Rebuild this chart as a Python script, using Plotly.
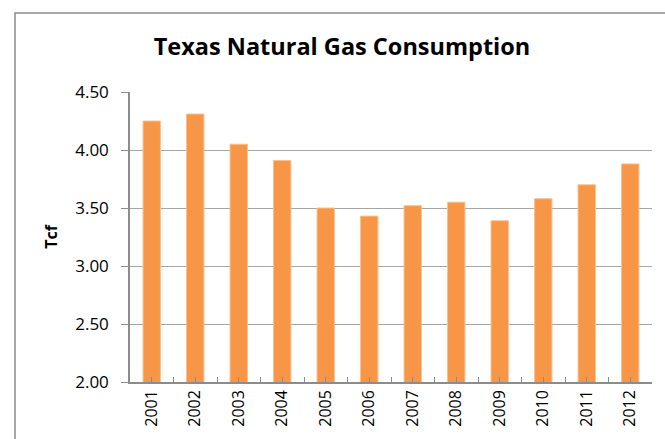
import plotly.graph_objects as go

years = ["2001", "2002", "2003", "2004", "2005", "2006", "2007", "2008", "2009", "2010", "2011", "2012"]
consumption_tcf = [4.25, 4.31, 4.05, 3.91, 3.50, 3.43, 3.52, 3.55, 3.39, 3.58, 3.70, 3.88]
y_ticks = [2.0, 2.5, 3.0, 3.5, 4.0, 4.5]
y_tick_labels = ["2.00", "2.50", "3.00", "3.50", "4.00", "4.50"]

FONT = "Open Sans"
xpos = list(range(len(years)))

fig = go.Figure(go.Bar(
    x=xpos, y=consumption_tcf,
    marker=dict(color="#F79646", line=dict(color="#FAC08F", width=1)),
    width=0.4,
))

fig.update_layout(
    width=665, height=439,
    margin=dict(l=130, r=13, t=92, b=57),
    paper_bgcolor="white", plot_bgcolor="white",
    showlegend=False,
    title=dict(text="<b>Texas Natural Gas Consumption</b>", x=342/665, xref="container",
               xanchor="center", y=1-47/439, yref="container", yanchor="middle",
               font=dict(family=FONT, size=23.5, color="black")),
    shapes=[dict(type="rect", xref="paper", yref="paper",
                 x0=(15-130)/522, x1=(672-130)/522, y0=(382-448)/290, y1=(382-13)/290,
                 line=dict(color="#8C8C8C", width=1.5), fillcolor="rgba(0,0,0,0)", layer="below")],
)

fig.update_xaxes(
    range=[-0.5, len(years)-0.5],
    tickmode="array", tickvals=xpos, ticktext=years, tickangle=-90,
    ticks="inside", ticklen=5, tickcolor="#8C8C8C",
    minor=dict(tickmode="array", tickvals=[i+0.5 for i in range(-1, len(years))],
               ticks="inside", ticklen=5, tickcolor="#8C8C8C"),
    showline=True, linecolor="#8C8C8C", linewidth=1.5,
    showgrid=False, zeroline=False,
    tickfont=dict(family=FONT, size=16, color="black"),
)

fig.update_yaxes(
    range=[2.0, 4.5],
    tickmode="array", tickvals=y_ticks, ticktext=y_tick_labels,
    ticks="outside", ticklen=7, tickcolor="#8C8C8C",
    showline=True, linecolor="#8C8C8C", linewidth=1.5,
    showgrid=True, gridcolor="#A6A6A6", gridwidth=1.2,
    zeroline=False,
    ticklabelstandoff=9,
    tickfont=dict(family=FONT, size=17, color="black"),
    title=dict(text="<b>Tcf</b>", font=dict(family=FONT, size=16, color="black"), standoff=14),
)

fig.write_html("out.html", config={"displayModeBar": False},
               post_script="document.body.style.margin='0';")
